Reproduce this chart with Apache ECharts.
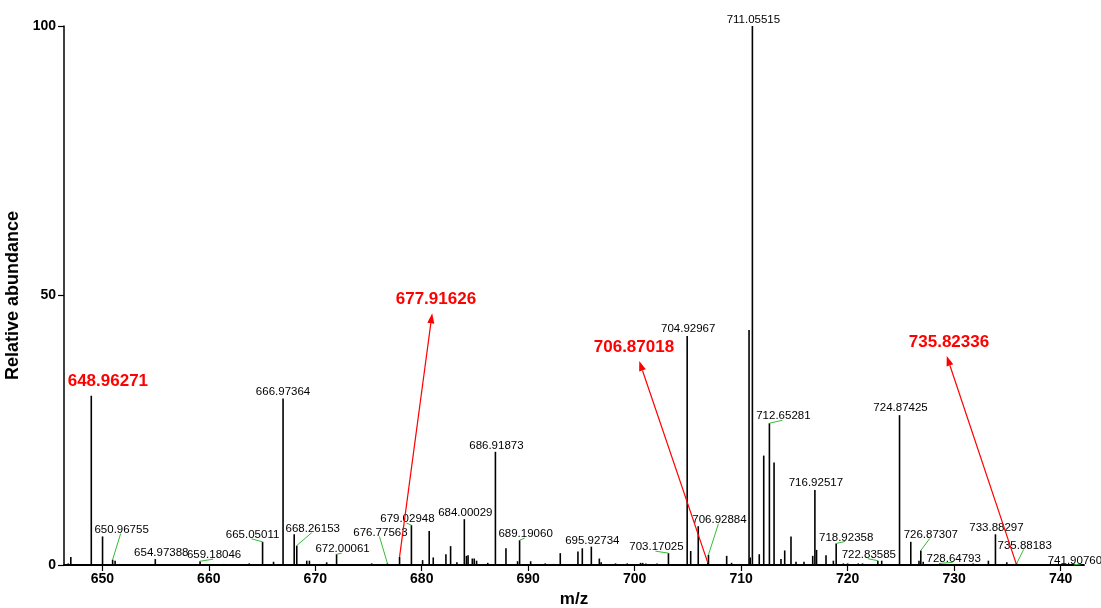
<!DOCTYPE html>
<html>
<head>
<meta charset="utf-8">
<script src="https://cdn.jsdelivr.net/npm/echarts@6/dist/echarts.min.js"></script>
<style>
  html, body { margin: 0; padding: 0; background: #fff; }
  #chart { width: 1101px; height: 608px; }
</style>
</head>
<body>
<div id="chart"></div>
<script>
// stick spectrum: m/z and relative abundance
const peakMz = [
  646.8, 647.04, 648.96271, 650.02, 650.96755, 651.2, 652.3, 654.97388, 657.5, 659.18046,
  661.4, 663.8, 665.05011, 666.08, 666.97364, 668.02, 668.26153, 669.2, 669.45, 671.07,
  672.00061, 674.4, 675.3, 676.77563, 677.91626, 679.02948, 680.08, 680.70, 681.08, 682.27,
  682.71, 683.3, 684.00029, 684.2, 684.35, 684.75, 684.93, 685.15, 686.2, 686.91873,
  687.91, 689.0, 689.19060, 690.23, 691.6, 692.4, 693.01, 694.67, 695.08, 695.92734,
  696.68, 696.85, 698.2, 699.3, 700.55, 700.75, 701.05, 702.1, 703.17025, 704.92967,
  705.26, 705.97, 706.87018, 706.92884, 708.64, 709.1, 710.74, 710.85, 711.05515, 711.7,
  712.12, 712.65281, 713.09, 713.74, 714.09, 714.68, 715.15, 715.9, 716.72, 716.92517,
  717.08, 717.97, 718.66, 718.92358, 719.6, 720.0, 721.0, 721.4, 722.83585, 723.2,
  724.87425, 725.93, 726.7, 726.87307, 727.1, 728.64793, 730.5, 731.8, 733.22, 733.88297,
  734.95, 735.82336, 735.88183, 737.4, 738.9, 740.3, 741.90760
];
const peakAbundance = [
  0.3, 1.5, 31.4, 5.3, 1.0, 0.8, 0.2, 1.1, 0.2, 0.7,
  0.2, 0.3, 4.3, 0.6, 30.9, 5.7, 3.6, 0.8, 0.8, 0.5,
  2.0, 0.2, 0.3, 0.3, 1.5, 7.4, 0.9, 6.3, 1.4, 2.0,
  3.5, 0.5, 8.5, 1.7, 1.8, 1.2, 1.2, 0.8, 0.4, 21.0,
  3.1, 0.7, 4.6, 0.7, 0.3, 0.2, 2.2, 2.5, 3.1, 3.4,
  1.2, 0.5, 0.3, 0.3, 0.4, 0.4, 0.3, 0.3, 2.2, 42.5,
  2.6, 7.2, 0.4, 1.9, 1.7, 0.4, 43.6, 1.4, 100, 2.0,
  20.3, 26.3, 19.0, 1.1, 2.7, 5.3, 0.6, 0.6, 1.7, 13.9,
  2.8, 1.8, 0.8, 4.0, 0.3, 0.3, 0.3, 0.3, 0.8, 0.8,
  27.8, 4.3, 0.8, 2.7, 0.6, 0.3, 0.2, 0.3, 0.8, 5.7,
  0.5, 0.3, 0.3, 0.2, 0.2, 0.2, 0.2
];

// black peak labels
const labelText = [
  '650.96755', '654.97388', '659.18046', '665.05011', '666.97364', '668.26153', '672.00061',
  '676.77563', '679.02948', '684.00029', '686.91873', '689.19060', '695.92734', '703.17025',
  '704.92967', '706.92884', '711.05515', '712.65281', '716.92517', '718.92358', '722.83585',
  '724.87425', '726.87307', '728.64793', '733.88297', '735.88183', '741.90760'
];
// label centre offset from the peak top, in px; leader = green guide line
const labelOffset = [
  [9, -30], [6, -6], [14, -6], [-10, -7], [0, -7], [16, -17], [6, -5],
  [-7, -31], [-4, -6], [1, -6], [1, -6], [6, -6], [1, -6], [-12, -6],
  [1, -7], [11, -35], [1, -6], [14, -7], [1, -7], [10, -6], [-9, -6],
  [1, -7], [10, -16], [14, -5], [1, -6], [8, -18], [-6, -3]
];
const labelLeader = [
  true, false, true, true, false, true, true,
  true, true, false, false, true, false, true,
  false, true, false, true, false, true, true,
  false, true, true, false, true, true
];

// red annotations
const redText = ['648.96271', '677.91626', '706.87018', '735.82336'];
const redLabelAt = [[650.52, 34.0], [681.33, 49.35], [699.93, 40.3], [729.52, 41.24]];
const redArrowTip = [null, [680.98, 46.7], [700.43, 37.85], [729.31, 38.78]];

const xTicks = [650, 660, 670, 680, 690, 700, 710, 720, 730, 740];

const FONT = '"Liberation Sans", Arial, sans-serif';

function abundanceOf(mz) {
  const i = peakMz.indexOf(mz);
  return i >= 0 ? peakAbundance[i] : 0;
}

const stickData = peakMz.map((mz, i) => [mz, peakAbundance[i]]);
const labelData = labelText.map((t, i) => [parseFloat(t), abundanceOf(parseFloat(t)), i]);
const redData = redText.map((t, i) => [redLabelAt[i][0], redLabelAt[i][1], i]);

function renderStick(params, api) {
  const top = api.coord([api.value(0), api.value(1)]);
  const base = api.coord([api.value(0), 0]);
  return {
    type: 'line',
    shape: { x1: base[0], y1: base[1], x2: top[0], y2: top[1] },
    style: { stroke: '#000', lineWidth: 1.6 }
  };
}

function renderLabel(params, api) {
  const i = api.value(2);
  const p = api.coord([api.value(0), api.value(1)]);
  const cx = p[0] + labelOffset[i][0];
  const cy = p[1] + labelOffset[i][1];
  const children = [];
  if (labelLeader[i]) {
    children.push({
      type: 'line',
      shape: { x1: p[0], y1: p[1], x2: cx - 1, y2: cy + 4 },
      style: { stroke: '#33bb33', lineWidth: 1 }
    });
  }
  children.push({
    type: 'text',
    x: cx, y: cy,
    style: {
      text: labelText[i], fill: '#000', fontSize: 11.5, fontFamily: FONT,
      align: 'center', verticalAlign: 'middle'
    }
  });
  return { type: 'group', children: children };
}

function renderRed(params, api) {
  const i = api.value(2);
  const c = api.coord([api.value(0), api.value(1)]);
  const children = [];
  if (redArrowTip[i]) {
    const mz = parseFloat(redText[i]);
    const s = api.coord([mz, abundanceOf(mz)]);
    const t = api.coord(redArrowTip[i]);
    const dx = t[0] - s[0], dy = t[1] - s[1];
    const len = Math.sqrt(dx * dx + dy * dy);
    const ux = dx / len, uy = dy / len;
    const hl = 10, hw = 3.5;
    const bx = t[0] - ux * hl, by = t[1] - uy * hl;
    children.push({
      type: 'line',
      shape: { x1: s[0], y1: s[1], x2: bx, y2: by },
      style: { stroke: '#ff0000', lineWidth: 1.2 }
    });
    children.push({
      type: 'polygon',
      shape: { points: [[t[0], t[1]], [bx - uy * hw, by + ux * hw], [bx + uy * hw, by - ux * hw]] },
      style: { fill: '#ff0000' }
    });
  }
  children.push({
    type: 'text',
    x: c[0], y: c[1],
    style: {
      text: redText[i], fill: '#ff0000', fontSize: 17, fontWeight: 'bold', fontFamily: FONT,
      align: 'center', verticalAlign: 'middle'
    }
  });
  return { type: 'group', children: children };
}

const chart = echarts.init(document.getElementById('chart'));
chart.setOption({
  animation: false,
  grid: { left: 64, right: 17, top: 26, bottom: 43, outerBoundsMode: 'none' },
  xAxis: {
    type: 'value',
    min: 646.4,
    max: 742.2,
    name: 'm/z',
    nameLocation: 'middle',
    nameGap: 25,
    nameTextStyle: { color: '#000', fontSize: 17, fontWeight: 'bold', fontFamily: FONT },
    axisLine: { onZero: false, lineStyle: { color: '#000', width: 1.8 } },
    axisTick: { customValues: xTicks, length: 6, lineStyle: { color: '#000', width: 1.2 } },
    axisLabel: { customValues: xTicks, color: '#000', fontSize: 14, fontWeight: 'bold', fontFamily: FONT, margin: 7 },
    splitLine: { show: false }
  },
  yAxis: {
    type: 'value',
    min: 0,
    max: 100,
    interval: 50,
    name: 'Relative abundance',
    nameLocation: 'middle',
    nameGap: 34,
    nameTextStyle: { color: '#000', fontSize: 18, fontWeight: 'bold', fontFamily: FONT },
    axisLine: { show: true, lineStyle: { color: '#000', width: 1.5 } },
    axisTick: { show: true, length: 6, lineStyle: { color: '#000', width: 1.2 } },
    axisLabel: { color: '#000', fontSize: 14, fontWeight: 'bold', fontFamily: FONT, margin: 8 },
    splitLine: { show: false }
  },
  series: [
    {
      type: 'custom',
      name: 'spectrum',
      renderItem: renderStick,
      encode: { x: 0, y: 1 },
      data: stickData,
      silent: true,
      clip: false
    },
    {
      type: 'custom',
      name: 'labels',
      renderItem: renderLabel,
      encode: { x: 0, y: 1 },
      data: labelData,
      silent: true,
      clip: false
    },
    {
      type: 'custom',
      name: 'annotations',
      renderItem: renderRed,
      encode: { x: 0, y: 1 },
      data: redData,
      silent: true,
      clip: false
    }
  ]
});
</script>
</body>
</html>
